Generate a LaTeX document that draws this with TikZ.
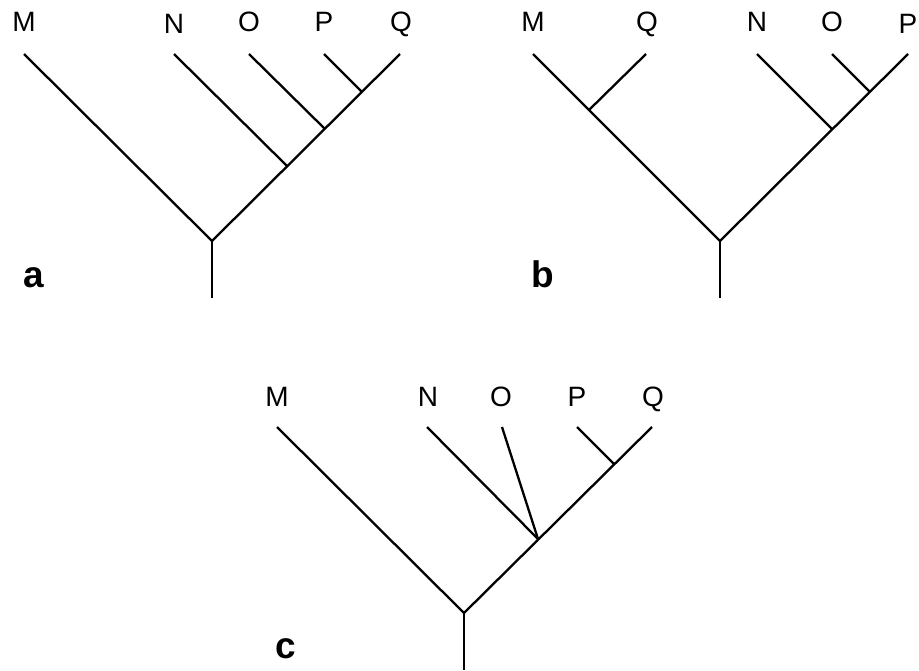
\documentclass[tikz,border=0pt]{standalone}
\usepackage{fontspec}
\setmainfont{Liberation Sans}
\begin{document}
\begin{tikzpicture}[x=1pt,y=-1pt,
  branch/.style={line width=2.3pt, line cap=butt, line join=miter},
  taxon/.style={anchor=base, inner sep=0pt, font=\fontsize{28}{32}\selectfont},
  panel/.style={anchor=base, inner sep=0pt, font=\fontsize{37}{40}\selectfont\bfseries}]
\useasboundingbox (0,0) rectangle (919,670);
% ---------- tree a ----------
\node[taxon] (aM) at (24,31) {M};
\node[taxon] (aN) at (174,33) {N};
\node[taxon] (aO) at (249,31) {O};
\node[taxon] (aP) at (324,31) {P};
\node[taxon] (aQ) at (401,31) {Q};
\node[panel] (la) at (34,287) {a};
\coordinate (atM) at (24,54);
\coordinate (atN) at (174,54);
\coordinate (atO) at (249,54);
\coordinate (atP) at (324,54);
\coordinate (atQ) at (400,54);
\coordinate (ar) at (212,241);
\coordinate (arb) at (212,298);
\coordinate (aj1) at (287,166);
\coordinate (aj2) at (325,129);
\coordinate (aj3) at (362,92);
\draw[branch] (arb) -- (ar);
\draw[branch] (atM) -- (ar) -- (atQ);
\draw[branch] (atN) -- (aj1);
\draw[branch] (atO) -- (aj2);
\draw[branch] (atP) -- (aj3);
% ---------- tree b ----------
\node[taxon] (bM) at (533,31) {M};
\node[taxon] (bQ) at (647,31) {Q};
\node[taxon] (bN) at (757,31) {N};
\node[taxon] (bO) at (832,31) {O};
\node[taxon] (bP) at (908,33) {P};
\node[panel] (lb) at (543,287) {b};
\coordinate (btM) at (533,54);
\coordinate (btQ) at (646,54);
\coordinate (btN) at (757,54);
\coordinate (btO) at (832,54);
\coordinate (btP) at (908,54);
\coordinate (br) at (720,241);
\coordinate (brb) at (720,298);
\coordinate (bj1) at (589,110);
\coordinate (bj2) at (832,129);
\coordinate (bj3) at (870,92);
\draw[branch] (brb) -- (br);
\draw[branch] (btM) -- (br) -- (btP);
\draw[branch] (bj1) -- (btQ);
\draw[branch] (btN) -- (bj2);
\draw[branch] (btO) -- (bj3);
% ---------- tree c ----------
\node[taxon] (cM) at (277,406) {M};
\node[taxon] (cN) at (428,406) {N};
\node[taxon] (cO) at (501,406) {O};
\node[taxon] (cP) at (577,406) {P};
\node[taxon] (cQ) at (653,406) {Q};
\node[panel] (lc) at (286,658) {c};
\coordinate (ctM) at (277,427);
\coordinate (ctN) at (427,427);
\coordinate (ctO) at (502,427);
\coordinate (ctP) at (577,427);
\coordinate (ctQ) at (652,427);
\coordinate (cr) at (464,613);
\coordinate (crb) at (464,670);
\coordinate (cj1) at (538,539);
\coordinate (cj2) at (614,464);
\draw[branch] (crb) -- (cr);
\draw[branch] (ctM) -- (cr) -- (ctQ);
\draw[branch] (ctN) -- (cj1);
\draw[branch] (ctO) -- (cj1);
\draw[branch] (ctP) -- (cj2);
\end{tikzpicture}
\end{document}
